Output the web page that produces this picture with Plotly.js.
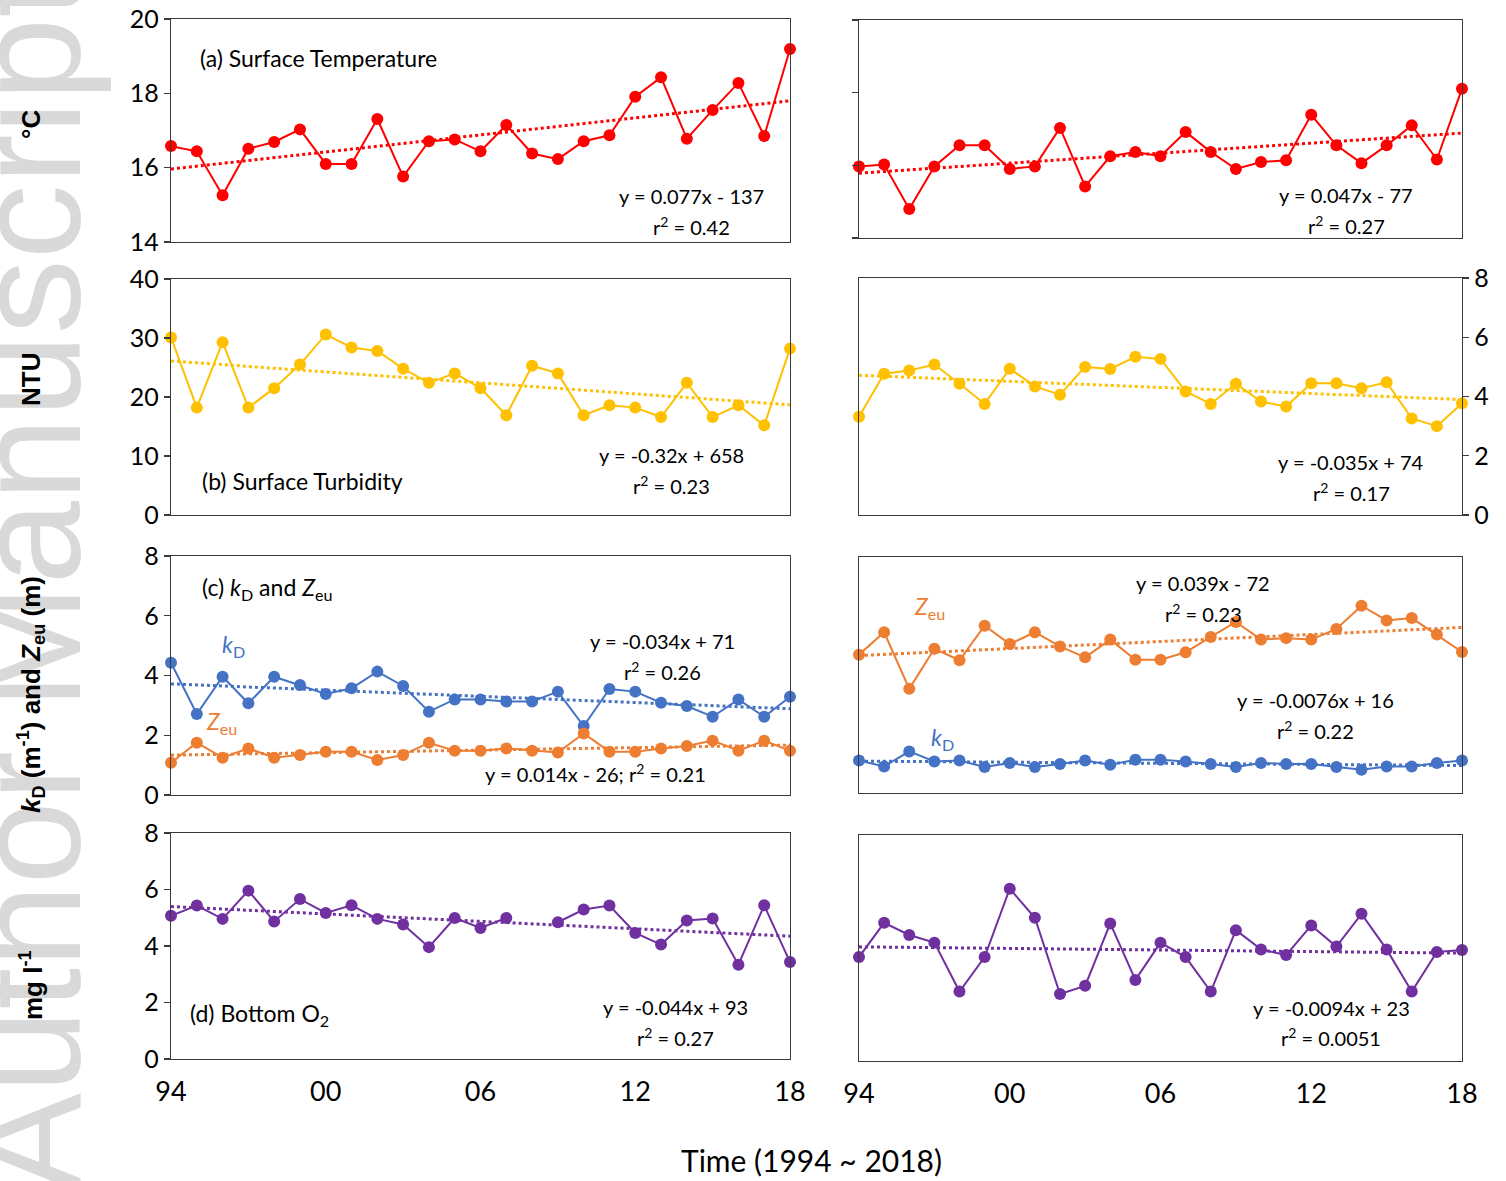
<!DOCTYPE html>
<html><head><meta charset="utf-8">
<script src="https://cdn.plot.ly/plotly-3.0.1.min.js"></script>
<style>html,body{margin:0;padding:0;background:#fff}#chart{width:1506px;height:1181px}</style>
</head><body><div id="chart"></div>
<script>
const years = [1994,1995,1996,1997,1998,1999,2000,2001,2002,2003,2004,2005,2006,2007,2008,2009,2010,2011,2012,2013,2014,2015,2016,2017,2018];
const tickYears = [1994,2000,2006,2012,2018];
const tickText = ['94','00','06','12','18'];

const leftTemp  = [16.58,16.44,15.26,16.51,16.69,17.03,16.10,16.10,17.31,15.76,16.71,16.76,16.44,17.15,16.38,16.23,16.71,16.87,17.91,18.43,16.78,17.55,18.28,16.85,19.19];
const rightTemp = [15.97,16.02,14.80,15.97,16.55,16.55,15.90,15.97,17.03,15.42,16.25,16.37,16.25,16.92,16.37,15.90,16.09,16.14,17.39,16.55,16.06,16.55,17.10,16.16,18.11];
const leftTurb  = [30.1,18.2,29.3,18.2,21.5,25.5,30.6,28.4,27.8,24.8,22.4,24.0,21.5,16.9,25.3,24.0,16.9,18.6,18.2,16.6,22.4,16.6,18.6,15.2,28.2];
const rightTurb = [3.32,4.77,4.88,5.08,4.43,3.75,4.94,4.34,4.06,5.00,4.93,5.34,5.27,4.17,3.75,4.43,3.83,3.66,4.45,4.45,4.28,4.48,3.26,3.00,3.77];
const leftKd    = [4.43,2.71,3.96,3.07,3.96,3.68,3.38,3.57,4.13,3.65,2.79,3.20,3.20,3.13,3.13,3.46,2.31,3.55,3.46,3.09,2.98,2.62,3.20,2.62,3.29];
const leftZeu   = [1.08,1.75,1.25,1.56,1.25,1.34,1.45,1.45,1.17,1.34,1.75,1.48,1.48,1.56,1.48,1.42,2.06,1.45,1.45,1.56,1.64,1.82,1.48,1.82,1.48];
const rightZeu  = [4.69,5.45,3.53,4.89,4.50,5.67,5.05,5.45,4.97,4.60,5.20,4.52,4.52,4.77,5.29,5.80,5.20,5.25,5.20,5.56,6.35,5.85,5.93,5.37,4.78];
const rightKd   = [1.10,0.90,1.41,1.07,1.10,0.88,1.02,0.88,0.98,1.10,0.96,1.13,1.13,1.07,0.98,0.88,1.02,0.98,0.98,0.88,0.79,0.90,0.90,1.02,1.10];
const leftO2    = [5.07,5.43,4.96,5.96,4.87,5.66,5.17,5.44,4.96,4.76,3.96,4.99,4.64,4.99,null,4.84,5.29,5.43,4.46,4.05,4.90,4.97,3.34,5.44,3.43];
const rightO2   = [3.68,4.89,4.46,4.19,2.46,3.68,6.10,5.07,2.37,2.66,4.87,2.87,4.19,3.68,2.46,4.63,3.95,3.75,4.80,4.05,5.21,3.95,2.46,3.86,3.93];

const RED='#FF0000', GOLD='#FFC000', BLUE='#4472C4', ORANGE='#ED7D31', PURPLE='#7030A0';
const FONT = 'Lato, "Open Sans", sans-serif';
const W=1506, H=1181;
const px = v => v/W, py = v => 1 - v/H;

function fitEnds(xs, ys){
  let n=0,sx=0,sy=0,sxx=0,sxy=0;
  xs.forEach((x,i)=>{const y=ys[i]; if(y===null||y===undefined) return; n++; sx+=x; sy+=y; sxx+=x*x; sxy+=x*y;});
  const b=(n*sxy-sx*sy)/(n*sxx-sx*sx); const a=(sy-b*sx)/n;
  const x0=xs[0], x1=xs[xs.length-1];
  return {x:[x0,x1], y:[a+b*x0, a+b*x1]};
}

const traces=[];
function addSeries(ys, color, k){
  const xa = k===1?'x':'x'+k, ya = k===1?'y':'y'+k;
  traces.push({x:years, y:ys, xaxis:xa, yaxis:ya, type:'scatter', mode:'lines+markers', cliponaxis:false,
    connectgaps:false, line:{color:color, width:2}, marker:{color:color, size:12}, showlegend:false, hoverinfo:'skip'});
  const f = fitEnds(years, ys);
  traces.push({x:f.x, y:f.y, xaxis:xa, yaxis:ya, type:'scatter', mode:'lines', cliponaxis:false,
    line:{color:color, width:3, dash:'dot'}, showlegend:false, hoverinfo:'skip'});
}
addSeries(leftTemp, RED, 1);
addSeries(leftTurb, GOLD, 2);
addSeries(leftKd, BLUE, 3);
addSeries(leftZeu, ORANGE, 3);
addSeries(leftO2, PURPLE, 4);
addSeries(rightTemp, RED, 5);
addSeries(rightTurb, GOLD, 6);
addSeries(rightZeu, ORANGE, 7);
addSeries(rightKd, BLUE, 7);
addSeries(rightO2, PURPLE, 8);

const leftX=[px(171),px(790)], rightX=[px(859),px(1462)];
const dom=(t,b)=>[py(b),py(t)];
const rowsL=[dom(19,242),dom(279,515),dom(556,795),dom(833,1059)];
const rowsR=[dom(20,238),dom(278,515),dom(557,793),dom(835,1061)];
const ranges=[[14,20],[0,40],[0,8],[0,8]];
const rangesR=[[14,20],[0,8],[0,8],[0,8]];
const dticks=[2,10,2,2];

const layout={width:W,height:H,margin:{l:0,r:0,t:0,b:0},paper_bgcolor:'#fff',plot_bgcolor:'#fff',
  font:{family:FONT,color:'#000'},showlegend:false,annotations:[]};

const frame={showline:true,mirror:true,linecolor:'#3a3a3a',linewidth:1.3,showgrid:false,zeroline:false,fixedrange:true};
for(let k=1;k<=8;k++){
  const left=k<=4, r=(k-1)%4, bottom=(r===3);
  const xname=k===1?'xaxis':'xaxis'+k, yname=k===1?'yaxis':'yaxis'+k;
  layout[xname]=Object.assign({},frame,{domain:left?leftX:rightX,anchor:k===1?'y':'y'+k,range:[1994,2018],
    tickvals:tickYears,ticktext:tickText,ticks:'',showticklabels:bottom,tickfont:{size:27,family:FONT,color:'#000'},ticklabelstandoff:8});
  const ya=Object.assign({},frame,{domain:left?rowsL[r]:rowsR[r],anchor:k===1?'x':'x'+k,
    range:left?ranges[r]:rangesR[r],dtick:left?dticks[r]:2,tick0:0,
    tickfont:{size:25,family:FONT,color:'#000'},ticks:'outside',ticklen:6,tickcolor:'#3a3a3a',tickwidth:1.3});
  if(!left){
    if(r===0){ya.showticklabels=false;}
    else if(r===1){ya.side='right';}
    else {ya.ticks='';ya.showticklabels=false;}
  }
  layout[yname]=ya;
}

function ann(x,y,text,o){
  layout.annotations.push(Object.assign({xref:'paper',yref:'paper',x:px(x),y:py(y),text:text,showarrow:false,
    xanchor:'center',yanchor:'middle',font:{family:FONT,size:20,color:'#000'}},o||{}));
}
// watermark
ann(28,585,'Author Manuscript',{textangle:-90,font:{family:'Liberation Sans, Arial, sans-serif',size:150,color:'#d9d9d9'}});
// axis titles
const yt={textangle:-90,font:{family:'"Liberation Sans Narrow", "Liberation Sans", sans-serif',size:26,color:'#000'}};
ann(31,125,'<b>°C</b>',yt);
ann(31,380,'<b>NTU</b>',yt);
ann(31,695,'<b><i>k</i><sub>D</sub> (m<sup>-1</sup>) and <i>Z</i><sub>eu</sub> (m)</b>',yt);
ann(31,985,'<b>mg l<sup>-1</sup></b>',yt);
ann(811,1160,'Time (1994 ~ 2018)',{font:{family:FONT,size:30,color:'#000'}});
// panel labels
const pl={xanchor:'left',font:{family:FONT,size:23,color:'#000'}};
ann(198,58,'(a) Surface Temperature',pl);
ann(200,481,'(b) Surface Turbidity',pl);
ann(200,588,'(c) <i>k</i><sub>D</sub> and <i>Z</i><sub>eu</sub>',pl);
ann(188,1014,'(d) Bottom O<sub>2</sub>',pl);
// equations
ann(691,196,'y = 0.077x - 137'); ann(691,226,'r<sup>2</sup> = 0.42');
ann(1346,195,'y = 0.047x - 77'); ann(1346,225,'r<sup>2</sup> = 0.27');
ann(671,455,'y = -0.32x + 658'); ann(671,485,'r<sup>2</sup> = 0.23');
ann(1351,462,'y = -0.035x + 74'); ann(1351,492,'r<sup>2</sup> = 0.17');
ann(662,641,'y = -0.034x + 71'); ann(662,671,'r<sup>2</sup> = 0.26');
ann(595,773,'y = 0.014x - 26; r<sup>2</sup> = 0.21');
ann(1203,583,'y = 0.039x - 72'); ann(1203,613,'r<sup>2</sup> = 0.23');
ann(1315,700,'y = -0.0076x + 16'); ann(1315,730,'r<sup>2</sup> = 0.22');
ann(675,1007,'y = -0.044x + 93'); ann(675,1037,'r<sup>2</sup> = 0.27');
ann(1331,1008,'y = -0.0094x + 23'); ann(1331,1037,'r<sup>2</sup> = 0.0051');
// series labels
const lab=(c)=>({xanchor:'left',font:{family:FONT,size:23,color:c}});
ann(220,645,'<i>k</i><sub>D</sub>',lab(BLUE));
ann(204,722,'<i>Z</i><sub>eu</sub>',lab(ORANGE));
ann(912,608,'<i>Z</i><sub>eu</sub>',lab(ORANGE));
ann(929,738,'<i>k</i><sub>D</sub>',lab(BLUE));

Plotly.newPlot('chart',traces,layout,{displayModeBar:false,staticPlot:true});
</script></body></html>
